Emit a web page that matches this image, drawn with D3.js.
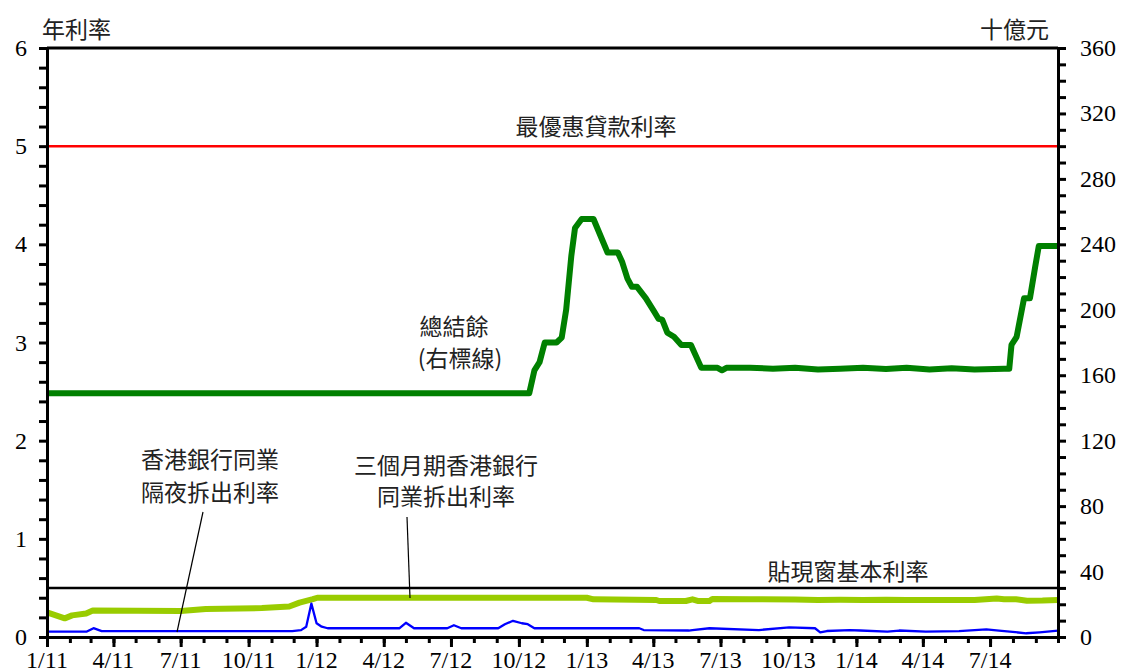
<!DOCTYPE html>
<html><head><meta charset="utf-8">
<script src="https://cdn.jsdelivr.net/npm/d3@7"></script>
<style>
body{margin:0;background:#fff;}
svg{display:block;}
</style></head>
<body>
<svg id="c" width="1121" height="671"></svg>
<script>
// ---- data ----
const primeRate = 5.0;        // 最優惠貸款利率
const baseRate = 0.5;         // 貼現窗基本利率
const xStart = "2011-01-01", xEnd = "2014-10-01";
const leftTicks = [0,1,2,3,4,5,6];
const rightTicks = [0,40,80,120,160,200,240,280,320,360];

const balDates = ["2011-01-01","2012-10-15","2012-10-22","2012-10-29","2012-11-05","2012-11-21","2012-11-28","2012-12-04","2012-12-11","2012-12-16","2012-12-25","2013-01-10","2013-01-29","2013-02-12","2013-02-18","2013-02-25","2013-03-03","2013-03-10","2013-03-22","2013-04-02","2013-04-08","2013-04-13","2013-04-20","2013-04-29","2013-05-09","2013-05-22","2013-06-05","2013-06-27","2013-07-03","2013-07-09","2013-08-10","2013-09-10","2013-10-10","2013-11-10","2013-12-10","2014-01-10","2014-02-10","2014-03-10","2014-04-10","2014-05-10","2014-06-10","2014-07-20","2014-07-27","2014-07-30","2014-08-06","2014-08-16","2014-08-24","2014-08-31","2014-09-05","2014-10-01"];
const balValues = [149,149,163,168,180,180,183,200,233,250,255.5,255.5,235,235,229,219,214,214,207,199,194.5,194,186,183.5,178.5,178.5,164.5,164.5,163,164.5,164.5,164,164.5,163.5,164,164.5,163.8,164.5,163.5,164.2,163.5,164,164,178.5,183.5,207,207,226,239,239];

const h3mDates = ["2011-01-01","2011-01-25","2011-02-04","2011-02-23","2011-03-04","2011-07-01","2011-08-04","2011-10-19","2011-11-25","2011-12-09","2011-12-27","2012-01-02","2013-01-01","2013-01-10","2013-04-05","2013-04-09","2013-05-15","2013-05-24","2013-05-31","2013-06-16","2013-06-20","2013-08-10","2013-10-10","2013-11-10","2013-12-10","2014-01-10","2014-02-10","2014-03-10","2014-04-10","2014-05-10","2014-06-10","2014-07-10","2014-07-20","2014-08-05","2014-08-20","2014-09-10","2014-10-01"];
const h3mValues = [0.25,0.19,0.22,0.24,0.27,0.265,0.285,0.295,0.31,0.35,0.385,0.40,0.40,0.384,0.377,0.367,0.367,0.384,0.367,0.367,0.387,0.385,0.383,0.378,0.38,0.377,0.38,0.378,0.377,0.377,0.378,0.392,0.385,0.385,0.37,0.372,0.378];

const onDates = ["2011-01-01","2011-02-24","2011-03-05","2011-03-16","2011-11-29","2011-12-11","2011-12-18","2011-12-25","2012-01-01","2012-01-08","2012-01-16","2012-04-22","2012-05-01","2012-05-12","2012-06-26","2012-07-05","2012-07-15","2012-09-03","2012-09-12","2012-09-23","2012-10-05","2012-10-13","2012-10-22","2013-03-13","2013-03-19","2013-05-19","2013-05-24","2013-06-16","2013-08-22","2013-10-02","2013-11-06","2013-11-13","2013-11-22","2013-12-23","2014-01-06","2014-02-12","2014-02-28","2014-04-05","2014-05-20","2014-06-26","2014-07-13","2014-08-19","2014-09-06","2014-10-01"];
const onValues = [0.055,0.055,0.09,0.06,0.06,0.07,0.105,0.34,0.14,0.105,0.089,0.089,0.145,0.089,0.089,0.12,0.089,0.089,0.13,0.165,0.14,0.13,0.089,0.089,0.071,0.066,0.071,0.089,0.071,0.099,0.089,0.048,0.061,0.071,0.066,0.054,0.066,0.054,0.06,0.078,0.066,0.038,0.048,0.064];

// ---- chart ----
const NUMFONT = "'Liberation Serif'";
const CJKFONT = "'Noto Sans CJK TC'";
const svg = d3.select("#c");
const L = 47, R = 1058, T = 48, B = 637;
const parse = d3.timeParse("%Y-%m-%d");
const x = d3.scaleTime().domain([parse(xStart), parse(xEnd)]).range([L, R]);
const yL = d3.scaleLinear().domain([0,6]).range([B, T]);
const yR = d3.scaleLinear().domain([0,360]).range([B, T]);

const mk = (ds, vs) => ds.map((d,i)=>({d:parse(d), v:vs[i]}));
const bal = mk(balDates, balValues), h3m = mk(h3mDates, h3mValues), on = mk(onDates, onValues);

// reference lines
svg.append("line").attr("x1",L).attr("x2",R).attr("y1",yL(primeRate)).attr("y2",yL(primeRate))
  .attr("stroke","#ff0000").attr("stroke-width",2.5);
svg.append("line").attr("x1",L).attr("x2",R).attr("y1",yL(baseRate)).attr("y2",yL(baseRate))
  .attr("stroke","#000").attr("stroke-width",2.5);

// series
svg.append("path").datum(h3m).attr("fill","none").attr("stroke","#99cc00").attr("stroke-width",6)
  .attr("stroke-linejoin","round").attr("d", d3.line().x(d=>x(d.d)).y(d=>yL(d.v)));
svg.append("path").datum(on).attr("fill","none").attr("stroke","#0000ff").attr("stroke-width",2.3)
  .attr("stroke-linejoin","round").attr("d", d3.line().x(d=>x(d.d)).y(d=>yL(d.v)));
svg.append("path").datum(bal).attr("fill","none").attr("stroke","#008000").attr("stroke-width",6)
  .attr("stroke-linejoin","round").attr("d", d3.line().x(d=>x(d.d)).y(d=>yR(d.v)));

// frame top
svg.append("line").attr("x1",L).attr("x2",R).attr("y1",T).attr("y2",T).attr("stroke","#000").attr("stroke-width",3);

// axes (ticks only)
const gL = svg.append("g").attr("transform",`translate(${L},0)`);
gL.call(d3.axisLeft(yL).tickValues(d3.range(0,6.01,0.2)).tickSize(8).tickFormat(""));
const gR = svg.append("g").attr("transform",`translate(${R},0)`);
gR.call(d3.axisRight(yR).tickValues(d3.range(0,360.1,10)).tickSize(8).tickFormat(""));
const gB = svg.append("g").attr("transform",`translate(0,${B})`);
gB.call(d3.axisBottom(x).ticks(d3.timeMonth.every(1)).tickSize(6).tickFormat(""));
const majors = x.ticks(d3.timeMonth.every(3)).filter(d=>+d < +parse(xEnd));
const gB2 = svg.append("g").attr("transform",`translate(0,${B})`);
gB2.call(d3.axisBottom(x).tickValues(majors).tickSize(10).tickFormat(""));
gB2.select("path.domain").remove();
[gL,gR,gB,gB2].forEach(g=>{
  g.selectAll("path.domain").attr("stroke","#000").attr("stroke-width",3);
  g.selectAll(".tick line").attr("stroke","#000").attr("stroke-width",3);
  g.selectAll(".tick text").remove();
});

// tick labels
const lab = svg.append("g");
lab.selectAll("text.l").data(leftTicks).join("text").attr("class","l")
  .attr("x",L-20).attr("y",d=>yL(d)+8).attr("text-anchor","end")
  .attr("font-family",NUMFONT).attr("font-size",24).attr("fill","#000").text(d=>d);
lab.selectAll("text.r").data(rightTicks).join("text").attr("class","r")
  .attr("x",R+22).attr("y",d=>yR(d)+8).attr("text-anchor","start")
  .attr("font-family",NUMFONT).attr("font-size",24).attr("fill","#000").text(d=>d);
const fmt = d3.timeFormat("%-m/%y");
lab.selectAll("text.b").data(majors).join("text").attr("class","b")
  .attr("x",d=>x(d)).attr("y",B+31).attr("text-anchor","middle")
  .attr("font-family",NUMFONT).attr("font-size",24).attr("fill","#000").text(d=>fmt(d));

// labels
const txt = (s,xx,yy,anchor)=>svg.append("text").attr("x",xx).attr("y",yy+8)
  .attr("text-anchor",anchor||"middle")
  .attr("font-family",CJKFONT).attr("font-size",23).attr("fill","#222").text(s);
txt("年利率",42,30,"start");
txt("十億元",1049,30,"end");
txt("最優惠貸款利率",596,127);
txt("總結餘",454,327);
txt("(右標線)",460,359);
txt("香港銀行同業",210,460);
txt("隔夜拆出利率",210,493);
txt("三個月期香港銀行",446,466);
txt("同業拆出利率",446,497);
txt("貼現窗基本利率",848,572);

// leader lines
svg.append("line").attr("x1",203).attr("y1",512).attr("x2",177).attr("y2",632).attr("stroke","#000").attr("stroke-width",1.2);
svg.append("line").attr("x1",407).attr("y1",517).attr("x2",410).attr("y2",598).attr("stroke","#000").attr("stroke-width",1.2);
</script>
</body></html>
